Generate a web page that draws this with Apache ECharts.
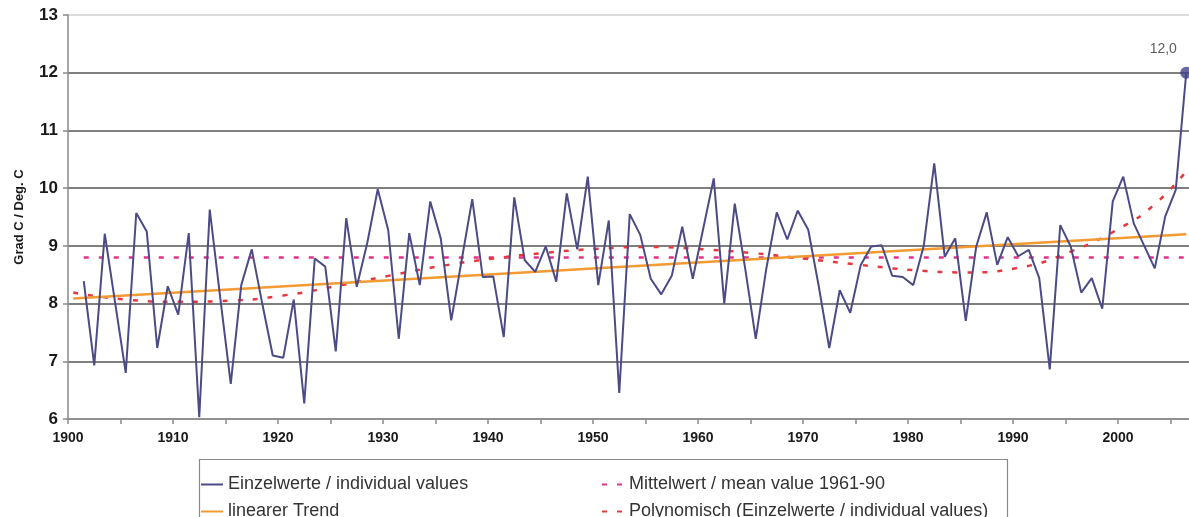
<!DOCTYPE html>
<html><head><meta charset="utf-8">
<script src="https://cdn.jsdelivr.net/npm/echarts@6/dist/echarts.min.js"></script>
<style>html,body{margin:0;padding:0;background:#fff}#c{width:1189px;height:517px}</style>
</head><body><div id="c"></div>
<script>
// ---- data ----
const firstYear = 1901;
const values = [
  8.39, 6.93, 9.21, 8.00, 6.80, 9.57, 9.25, 7.23, 8.30, 7.81,   // 1901-1910
  9.22, 6.03, 9.63, 8.10, 6.61, 8.32, 8.94, 8.00, 7.10, 7.06,   // 1911-1920
  8.07, 6.27, 8.78, 8.64, 7.17, 9.48, 8.29, 9.05, 9.98, 9.27,   // 1921-1930
  7.39, 9.22, 8.32, 9.77, 9.13, 7.71, 8.76, 9.81, 8.46, 8.47,   // 1931-1940
  7.42, 9.84, 8.75, 8.55, 8.99, 8.38, 9.91, 8.94, 10.20, 8.32,  // 1941-1950
  9.44, 6.45, 9.55, 9.19, 8.43, 8.16, 8.48, 9.33, 8.43, 9.30,   // 1951-1960
  10.17, 8.00, 9.73, 8.60, 7.39, 8.60, 9.58, 9.11, 9.61, 9.28,  // 1961-1970
  8.30, 7.23, 8.23, 7.84, 8.67, 8.99, 9.01, 8.48, 8.46, 8.32,   // 1971-1980
  9.00, 10.43, 8.81, 9.13, 7.70, 8.99, 9.58, 8.67, 9.15, 8.82,  // 1981-1990
  8.93, 8.44, 6.86, 9.36, 8.99, 8.19, 8.44, 7.91, 9.77, 10.20,  // 1991-2000
  9.39, 9.00, 8.61, 9.51, 9.97, 12.00                           // 2001-2006
];
const meanValue = 8.8;
const meanYears = [1901, 2006];
const trendYears = [1900, 2006];
const trendValues = [8.09, 9.20];
const polyYears  = [1900, 1905, 1910, 1915, 1920, 1925, 1930, 1935, 1940, 1945, 1950, 1955,
                    1960, 1965, 1970, 1975, 1980, 1985, 1990, 1995, 2000, 2003, 2006];
const polyValues = [8.19, 8.07, 8.03, 8.05, 8.14, 8.30, 8.48, 8.65, 8.78, 8.88, 8.95, 8.98,
                    8.94, 8.87, 8.77, 8.67, 8.58, 8.54, 8.62, 8.90, 9.34, 9.72, 10.29];
const yAxisName = 'Grad C / Deg. C';
const names = {
  values: 'Einzelwerte / individual values',
  trend: 'linearer Trend',
  mean: 'Mittelwert / mean value 1961-90',
  poly: 'Polynomisch (Einzelwerte / individual values)'
};

// Excel category axis: points sit in the middle of each year's band
const bandCenter = 0.5;
const pos = y => y + bandCenter;
const valueData = values.map((v, i) => [pos(firstYear + i), v]);
const lastIdx = values.length - 1;
const fmt = v => v.toFixed(1).replace('.', ',');

const chart = echarts.init(document.getElementById('c'), null, {renderer: 'canvas'});
const font = '"Liberation Sans", Arial, sans-serif';
chart.setOption({
  animation: false,
  backgroundColor: '#ffffff',
  grid: {left: 68, top: 15, width: 1123.5, height: 404, containLabel: false, outerBoundsMode: 'none'},
  xAxis: {
    type: 'value', min: 1900, max: 2007, interval: 5,
    axisLine: {show: true, lineStyle: {color: '#8a8a8a', width: 1.5}},
    axisTick: {show: true, length: 5, lineStyle: {color: '#8a8a8a', width: 1.5}},
    splitLine: {show: false},
    axisLabel: {
      margin: 12, fontFamily: font, fontWeight: 'bold', fontSize: 14, color: '#1a1a1a',
      showMaxLabel: false,
      formatter: v => (v % 10 === 0 ? String(v) : '')
    }
  },
  yAxis: {
    type: 'value', min: 6, max: 13, interval: 1,
    name: yAxisName, nameLocation: 'middle', nameGap: 42, nameRotate: 90,
    nameTextStyle: {fontFamily: font, fontWeight: 'bold', fontSize: 13, color: '#1a1a1a'},
    axisLine: {show: true, lineStyle: {color: '#8a8a8a', width: 1.5}},
    axisTick: {show: true, length: 5, lineStyle: {color: '#8a8a8a', width: 1.5}},
    axisLabel: {margin: 10, fontFamily: font, fontWeight: 'bold', fontSize: 17, color: '#1a1a1a'},
    splitLine: {show: true, lineStyle: {
      color: ['#8a8a8a', '#555', '#555', '#555', '#555', '#555', '#555', '#cfcfcf'], width: 1.6}}
  },
  legend: {
    left: 195, top: 466, width: 820, orient: 'horizontal', itemGap: 0,
    itemWidth: 22, itemHeight: 14,
    data: [names.values, names.mean, names.trend, names.poly],
    itemStyle: {opacity: 0},
    textStyle: {fontFamily: font, fontSize: 18, color: '#333', width: 373, lineHeight: 27}
  },
  graphic: [{
    type: 'rect', left: 197, top: 457, silent: true,
    shape: {width: 808, height: 80},
    style: {fill: 'none', stroke: '#8a8a8a', lineWidth: 1.2}
  }],
  series: [
    {
      name: names.values, type: 'line', data: valueData, symbol: 'none',
      lineStyle: {color: '#4b4b86', width: 2}, itemStyle: {color: '#4b4b86'}, z: 5
    },
    {
      name: names.mean, type: 'line', symbol: 'none',
      data: meanYears.map(y => [pos(y), meanValue]),
      lineStyle: {color: '#e0338a', width: 2.5, type: [5, 10]}, itemStyle: {color: '#e0338a'}, z: 3
    },
    {
      name: names.trend, type: 'line', symbol: 'none',
      data: trendYears.map((y, i) => [pos(y), trendValues[i]]),
      lineStyle: {color: '#f39a32', width: 2.5}, itemStyle: {color: '#f39a32'}, z: 4
    },
    {
      name: names.poly, type: 'line', symbol: 'none', smooth: true,
      data: polyYears.map((y, i) => [pos(y), polyValues[i]]),
      lineStyle: {color: '#e8383d', width: 2.5, type: [5, 10]}, itemStyle: {color: '#e8383d'}, z: 3
    },
    {
      name: 'last', type: 'scatter', symbol: 'circle', symbolSize: 12,
      data: [valueData[lastIdx]],
      itemStyle: {color: '#42428a'}, z: 6,
      label: {show: true, position: 'top', offset: [-23, -6], formatter: p => fmt(p.value[1]),
              fontFamily: font, fontSize: 14, color: '#333'}
    }
  ]
});
</script></body></html>
